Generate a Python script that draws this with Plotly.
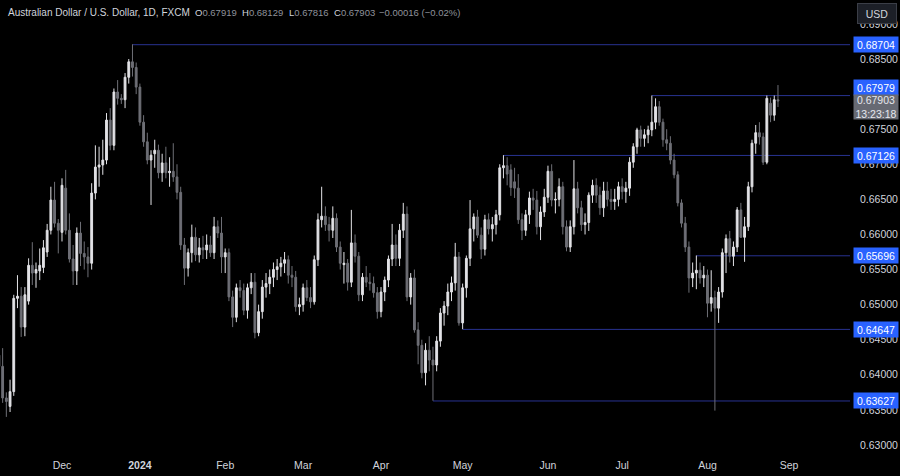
import plotly.graph_objects as go
import pandas as pd

# ---------------- data (AUD/USD daily, FXCM) ----------------
first_day = "2023-11-08"

opens = [
    0.6428, 0.6412, 0.6367, 0.6355, 0.6376, 0.6509, 0.6512, 0.6468, 0.6505, 0.6556,
    0.6545, 0.6548, 0.6553, 0.6575, 0.6606, 0.6649, 0.6616,
    0.6603, 0.6666, 0.6606, 0.6565, 0.6548, 0.6602, 0.6573, 0.6568, 0.6559, 0.6659,
    0.6696, 0.6699, 0.6706, 0.6763, 0.6727, 0.6803, 0.6794, 0.6792, 0.6824, 0.6846,
    0.6838, 0.6810, 0.6760, 0.6732, 0.6706, 0.6715, 0.6720, 0.6688, 0.6702, 0.6688,
    0.6690, 0.6682, 0.6660, 0.6585, 0.6552, 0.6574, 0.6596, 0.6571, 0.6581, 0.6578,
    0.6585, 0.6574, 0.6611, 0.6602, 0.6568, 0.6574, 0.6511, 0.6482, 0.6524, 0.6520,
    0.6492, 0.6524, 0.6532, 0.6460, 0.6490, 0.6525, 0.6530, 0.6539, 0.6550, 0.6554,
    0.6559, 0.6564, 0.6542, 0.6539, 0.6497, 0.6500, 0.6524, 0.6510, 0.6504, 0.6564,
    0.6621, 0.6626, 0.6614, 0.6606, 0.6623, 0.6582, 0.6557, 0.6559, 0.6532, 0.6588,
    0.6569, 0.6514, 0.6539, 0.6532, 0.6530, 0.6517, 0.6490, 0.6518, 0.6535, 0.6565,
    0.6585, 0.6566, 0.6606, 0.6629, 0.6511, 0.6538, 0.6464, 0.6442, 0.6403, 0.6435,
    0.6421, 0.6414, 0.6448, 0.6488, 0.6498, 0.6518, 0.6531, 0.6568, 0.6474, 0.6524,
    0.6566, 0.6608, 0.6625, 0.6599, 0.6579, 0.6621, 0.6608, 0.6614, 0.6628, 0.6695,
    0.6698, 0.6692, 0.6675, 0.6666, 0.6621, 0.6606, 0.6628, 0.6652, 0.6649, 0.6611,
    0.6632, 0.6653, 0.6690, 0.6649, 0.6650, 0.6668, 0.6611, 0.6582, 0.6611, 0.6665,
    0.6638, 0.6614, 0.6617, 0.6656, 0.6670, 0.6656, 0.6638, 0.6662, 0.6650, 0.6647,
    0.6650, 0.6668, 0.6661, 0.6666, 0.6703, 0.6725, 0.6749, 0.6737, 0.6742, 0.6749,
    0.6760, 0.6782, 0.6760, 0.6735, 0.6730, 0.6706, 0.6685, 0.6645, 0.6616, 0.6582,
    0.6538, 0.6545, 0.6549, 0.6538, 0.6542, 0.6502, 0.6510, 0.6495, 0.6518, 0.6574,
    0.6594, 0.6569, 0.6582, 0.6635, 0.6596, 0.6611, 0.6668, 0.6730, 0.6745, 0.6739,
    0.6703, 0.6787, 0.6770, 0.67919,
]
highs = [
    0.6445, 0.6438, 0.6375, 0.6393, 0.6514, 0.6542, 0.6525, 0.6525, 0.6566, 0.6589,
    0.6560, 0.6580, 0.6592, 0.6615, 0.6668, 0.6675, 0.6622,
    0.6680, 0.6692, 0.6630, 0.6585, 0.6610, 0.6618, 0.6590, 0.6582, 0.6673, 0.6727,
    0.6725, 0.6735, 0.6773, 0.6780, 0.6808, 0.6820, 0.6800, 0.6830, 0.6850, 0.6871,
    0.6845, 0.6815, 0.6770, 0.6745, 0.6720, 0.6735, 0.6728, 0.6715, 0.6725, 0.6710,
    0.6730, 0.6700, 0.6668, 0.6595, 0.6580, 0.6614, 0.6610, 0.6595, 0.6598, 0.6600,
    0.6598, 0.6625, 0.6620, 0.6625, 0.6580, 0.6580, 0.6520, 0.6530, 0.6535, 0.6530,
    0.6530, 0.6545, 0.6545, 0.6500, 0.6535, 0.6545, 0.6550, 0.6560, 0.6565, 0.6568,
    0.6575, 0.6570, 0.6555, 0.6548, 0.6510, 0.6530, 0.6535, 0.6525, 0.6570, 0.6630,
    0.6668, 0.6640, 0.6625, 0.6640, 0.6630, 0.6590, 0.6575, 0.6565, 0.6635, 0.6600,
    0.6575, 0.6545, 0.6555, 0.6545, 0.6540, 0.6525, 0.6525, 0.6540, 0.6570, 0.6615,
    0.6600, 0.6615, 0.6645, 0.6640, 0.6545, 0.6550, 0.6475, 0.6450, 0.6445, 0.6455,
    0.6440, 0.6455, 0.6495, 0.6505, 0.6530, 0.6540, 0.6588, 0.6575, 0.6530, 0.6570,
    0.6649, 0.6630, 0.6635, 0.6610, 0.6628, 0.6630, 0.6625, 0.6635, 0.6700, 0.6713,
    0.6710, 0.6700, 0.6695, 0.6686, 0.6630, 0.6635, 0.6661, 0.6665, 0.6662, 0.6640,
    0.6665, 0.6698, 0.6700, 0.6660, 0.6680, 0.6675, 0.6620, 0.6620, 0.6706, 0.6675,
    0.6648, 0.6630, 0.6660, 0.6678, 0.6680, 0.6668, 0.6675, 0.6675, 0.6665, 0.6665,
    0.6675, 0.6680, 0.6675, 0.6710, 0.6730, 0.6752, 0.6755, 0.6750, 0.6755, 0.6798,
    0.6794, 0.6790, 0.6765, 0.6750, 0.6740, 0.6715, 0.6690, 0.6650, 0.6625, 0.6590,
    0.6560, 0.6570, 0.6560, 0.6555, 0.6550, 0.6549, 0.6520, 0.6525, 0.6580, 0.6600,
    0.6605, 0.6590, 0.6639, 0.6645, 0.6625, 0.6675, 0.6735, 0.6756, 0.6760, 0.6745,
    0.6798, 0.6795, 0.6798, 0.68129,
]
lows = [
    0.6400, 0.6360, 0.6340, 0.6347, 0.6370, 0.6495, 0.6454, 0.6455, 0.6500, 0.6528,
    0.6524, 0.6535, 0.6545, 0.6568, 0.6600, 0.6610, 0.6573,
    0.6590, 0.6600, 0.6560, 0.6528, 0.6528, 0.6555, 0.6550, 0.6539, 0.6550, 0.6650,
    0.6668, 0.6685, 0.6700, 0.6720, 0.6720, 0.6785, 0.6786, 0.6780, 0.6815, 0.6825,
    0.6800, 0.6755, 0.6725, 0.6700, 0.6642, 0.6695, 0.6680, 0.6675, 0.6680, 0.6668,
    0.6675, 0.6650, 0.6578, 0.6528, 0.6540, 0.6560, 0.6562, 0.6560, 0.6565, 0.6565,
    0.6568, 0.6565, 0.6595, 0.6545, 0.6545, 0.6505, 0.6468, 0.6475, 0.6510, 0.6485,
    0.6480, 0.6515, 0.6452, 0.6455, 0.6480, 0.6510, 0.6515, 0.6525, 0.6535, 0.6540,
    0.6545, 0.6530, 0.6525, 0.6490, 0.6485, 0.6490, 0.6505, 0.6495, 0.6500, 0.6555,
    0.6610, 0.6605, 0.6590, 0.6595, 0.6575, 0.6550, 0.6530, 0.6520, 0.6525, 0.6560,
    0.6505, 0.6505, 0.6525, 0.6520, 0.6510, 0.6480, 0.6482, 0.6505, 0.6525, 0.6555,
    0.6555, 0.6555, 0.6595, 0.6505, 0.6500, 0.6460, 0.6415, 0.6395, 0.6385, 0.6405,
    0.6363, 0.6405, 0.6440, 0.6470, 0.6485, 0.6505, 0.6520, 0.6470, 0.6465, 0.6510,
    0.6555, 0.6590, 0.6595, 0.6565, 0.6570, 0.6600, 0.6590, 0.6600, 0.6620, 0.6680,
    0.6670, 0.6655, 0.6652, 0.6615, 0.6592, 0.6598, 0.6615, 0.6635, 0.6600, 0.6592,
    0.6625, 0.6645, 0.6640, 0.6630, 0.6640, 0.6600, 0.6576, 0.6575, 0.6600, 0.6630,
    0.6605, 0.6600, 0.6605, 0.6645, 0.6645, 0.6628, 0.6625, 0.6640, 0.6635, 0.6635,
    0.6640, 0.6650, 0.6645, 0.6655, 0.6695, 0.6715, 0.6725, 0.6725, 0.6730, 0.6740,
    0.6750, 0.6755, 0.6725, 0.6720, 0.6700, 0.6680, 0.6640, 0.6610, 0.6575, 0.6517,
    0.6525, 0.6522, 0.6530, 0.6525, 0.6482, 0.6490, 0.6349, 0.6474, 0.6510, 0.6545,
    0.6560, 0.6555, 0.6575, 0.6595, 0.6561, 0.6605, 0.6660, 0.6715, 0.6728, 0.6699,
    0.6700, 0.6760, 0.6762, 0.67816,
]
closes = [
    0.6412, 0.6367, 0.6362, 0.6376, 0.6509, 0.6512, 0.6468, 0.6514, 0.6556, 0.6545,
    0.6550, 0.6556, 0.6581, 0.6606, 0.6649, 0.6616, 0.6606,
    0.6670, 0.6606, 0.6565, 0.6548, 0.6602, 0.6573, 0.6568, 0.6559, 0.6659, 0.6696,
    0.6699, 0.6706, 0.6763, 0.6727, 0.6803, 0.6794, 0.6792, 0.6824, 0.6846, 0.6838,
    0.6810, 0.6760, 0.6732, 0.6706, 0.6713, 0.6720, 0.6688, 0.6702, 0.6688, 0.6690,
    0.6682, 0.6660, 0.6585, 0.6552, 0.6574, 0.6596, 0.6571, 0.6581, 0.6578, 0.6585,
    0.6574, 0.6611, 0.6602, 0.6568, 0.6574, 0.6511, 0.6482, 0.6524, 0.6520, 0.6492,
    0.6524, 0.6532, 0.6460, 0.6490, 0.6525, 0.6530, 0.6539, 0.6550, 0.6554, 0.6559,
    0.6564, 0.6542, 0.6539, 0.6497, 0.6500, 0.6524, 0.6510, 0.6504, 0.6564, 0.6621,
    0.6626, 0.6614, 0.6606, 0.6623, 0.6582, 0.6559, 0.6559, 0.6532, 0.6588, 0.6569,
    0.6514, 0.6539, 0.6532, 0.6530, 0.6517, 0.6490, 0.6518, 0.6535, 0.6565, 0.6585,
    0.6566, 0.6606, 0.6629, 0.6511, 0.6538, 0.6464, 0.6442, 0.6403, 0.6435, 0.6421,
    0.6414, 0.6448, 0.6488, 0.6498, 0.6518, 0.6531, 0.6568, 0.6474, 0.6524, 0.6566,
    0.6608, 0.6625, 0.6599, 0.6579, 0.6621, 0.6608, 0.6614, 0.6628, 0.6695, 0.6698,
    0.6686, 0.6667, 0.6666, 0.6621, 0.6606, 0.6628, 0.6652, 0.6649, 0.6611, 0.6632,
    0.6653, 0.6690, 0.6649, 0.6650, 0.6668, 0.6611, 0.6582, 0.6611, 0.6665, 0.6638,
    0.6614, 0.6617, 0.6656, 0.6670, 0.6656, 0.6638, 0.6662, 0.6650, 0.6647, 0.6650,
    0.6668, 0.6661, 0.6666, 0.6703, 0.6725, 0.6749, 0.6737, 0.6742, 0.6749, 0.6760,
    0.6782, 0.6760, 0.6735, 0.6730, 0.6706, 0.6685, 0.6645, 0.6616, 0.6582, 0.6538,
    0.6545, 0.6549, 0.6538, 0.6542, 0.6502, 0.6510, 0.6495, 0.6518, 0.6574, 0.6594,
    0.6569, 0.6582, 0.6635, 0.6596, 0.6611, 0.6668, 0.6730, 0.6745, 0.6739, 0.6703,
    0.6794, 0.6770, 0.6792, 0.67903,
]

level_values = [0.68704, 0.67979, 0.67126, 0.65696, 0.64647, 0.63627]
level_starts = ["2023-12-28", "2024-07-11", "2024-05-16", "2024-07-29", "2024-05-01", "2024-04-19"]
level_shift = [0, 8, 0, 0, 0, 0]

month_ticks = ["2023-12-01", "2024-01-01", "2024-02-01", "2024-03-01", "2024-04-01",
               "2024-05-01", "2024-06-03", "2024-07-01", "2024-08-01", "2024-09-02"]
month_labels = ["Dec", "<b>2024</b>", "Feb", "Mar", "Apr", "May", "Jun", "Jul", "Aug", "Sep"]

price_ticks = [0.630, 0.635, 0.640, 0.645, 0.650, 0.655, 0.660, 0.665, 0.670,
               0.675, 0.680, 0.685, 0.690]

last_price = 0.67903
countdown = "13:23:18"
title_text = "Australian Dollar / U.S. Dollar, 1D, FXCM"
ohlc_labels = ["O", "H", "L", "C"]
ohlc_values = ["0.67919", "0.68129", "0.67816", "0.67903"]
change_text = "\u22120.00016 (\u22120.02%)"

# ---------------- figure ----------------
dates = pd.bdate_range(first_day, periods=len(closes))
x_start = "2023-11-08 07:00"
x_end = "2024-09-24 10:00"

UP = "#e2e2e6"
DOWN = "#6e6f76"
LEVEL = "#283290"
BLUE = "#2962ff"
TXT = "#d1d4dc"
GREY = "#8f929b"
FONT = "Liberation Sans"

PLOT_W = 850.0
PLOT_H = 452.0

fig = go.Figure()
fig.add_trace(go.Candlestick(
    x=dates, open=opens, high=highs, low=lows, close=closes,
    increasing=dict(line=dict(color=UP, width=1), fillcolor=UP),
    decreasing=dict(line=dict(color=DOWN, width=1), fillcolor=DOWN),
    whiskerwidth=0, hoverinfo="skip", showlegend=False,
))

shapes = []
annotations = []
for val, start, sh in zip(level_values, level_starts, level_shift):
    shapes.append(dict(type="line", xref="x", yref="y", x0=start, x1=x_end,
                       y0=val, y1=val, line=dict(color=LEVEL, width=1), layer="below"))
    annotations.append(dict(xref="paper", yref="y", x=853 / PLOT_W, y=val, yshift=sh,
                            xanchor="left", yanchor="middle", showarrow=False,
                            text=f"{val:.5f}", font=dict(family=FONT, size=10.5, color="#ffffff"),
                            bgcolor=BLUE, width=42, height=13, borderpad=1))

# current price label
annotations.append(dict(xref="paper", yref="y", x=853 / PLOT_W, y=last_price, yshift=-6,
                        xanchor="left", yanchor="middle", showarrow=False,
                        text=f"{last_price:.5f}<br>{countdown}",
                        font=dict(family=FONT, size=10.5, color="#e6e8ee"),
                        bgcolor="#676a73", width=42, height=22, borderpad=1, align="center"))

# USD button
annotations.append(dict(xref="paper", yref="paper", x=857 / PLOT_W, y=1 - 3 / PLOT_H,
                        xanchor="left", yanchor="top", showarrow=False, text="USD",
                        font=dict(family=FONT, size=10.5, color=TXT),
                        bgcolor="#1c1f27", bordercolor="#3b3e47", borderwidth=1,
                        width=36, height=17, borderpad=1))

# header
hy = 1 - 12 / PLOT_H
annotations.append(dict(xref="paper", yref="paper", x=6 / PLOT_W, y=hy, xanchor="left",
                        yanchor="middle", showarrow=False, text=title_text,
                        font=dict(family=FONT, size=10, color=TXT)))
for lab, val, px in zip(ohlc_labels, ohlc_values, [193, 240, 287, 332]):
    annotations.append(dict(xref="paper", yref="paper", x=px / PLOT_W, y=hy, xanchor="left",
                            yanchor="middle", showarrow=False,
                            text=f"{lab}<span style='color:{GREY}'>{val}</span>",
                            font=dict(family=FONT, size=9.5, color=TXT)))
annotations.append(dict(xref="paper", yref="paper", x=377 / PLOT_W, y=hy, xanchor="left",
                        yanchor="middle", showarrow=False, text=change_text,
                        font=dict(family=FONT, size=9.5, color=GREY)))

fig.update_layout(
    width=900, height=476,
    margin=dict(l=0, r=50, t=0, b=24),
    paper_bgcolor="#000000", plot_bgcolor="#000000",
    showlegend=False,
    shapes=shapes, annotations=annotations,
    font=dict(family=FONT, size=10.5, color=TXT),
    xaxis=dict(
        type="date", range=[x_start, x_end],
        rangebreaks=[dict(bounds=["sat", "mon"])],
        rangeslider=dict(visible=False),
        tickvals=month_ticks, ticktext=month_labels,
        showgrid=False, zeroline=False, showline=False, ticks="",
        ticklabelstandoff=5,
        tickfont=dict(family=FONT, size=10.5, color=TXT),
        fixedrange=True,
    ),
    yaxis=dict(
        side="right", range=[0.62900, 0.69341],
        tickvals=price_ticks, ticktext=[f"{v:.5f}" for v in price_ticks],
        showgrid=False, zeroline=False, showline=False, ticks="",
        ticklabelstandoff=9,
        tickfont=dict(family=FONT, size=10.5, color=TXT),
        fixedrange=True,
    ),
)

fig.write_html(
    "out.html",
    config={"displayModeBar": False},
    post_script="document.body.style.margin='0px';document.body.style.overflow='hidden';",
)
